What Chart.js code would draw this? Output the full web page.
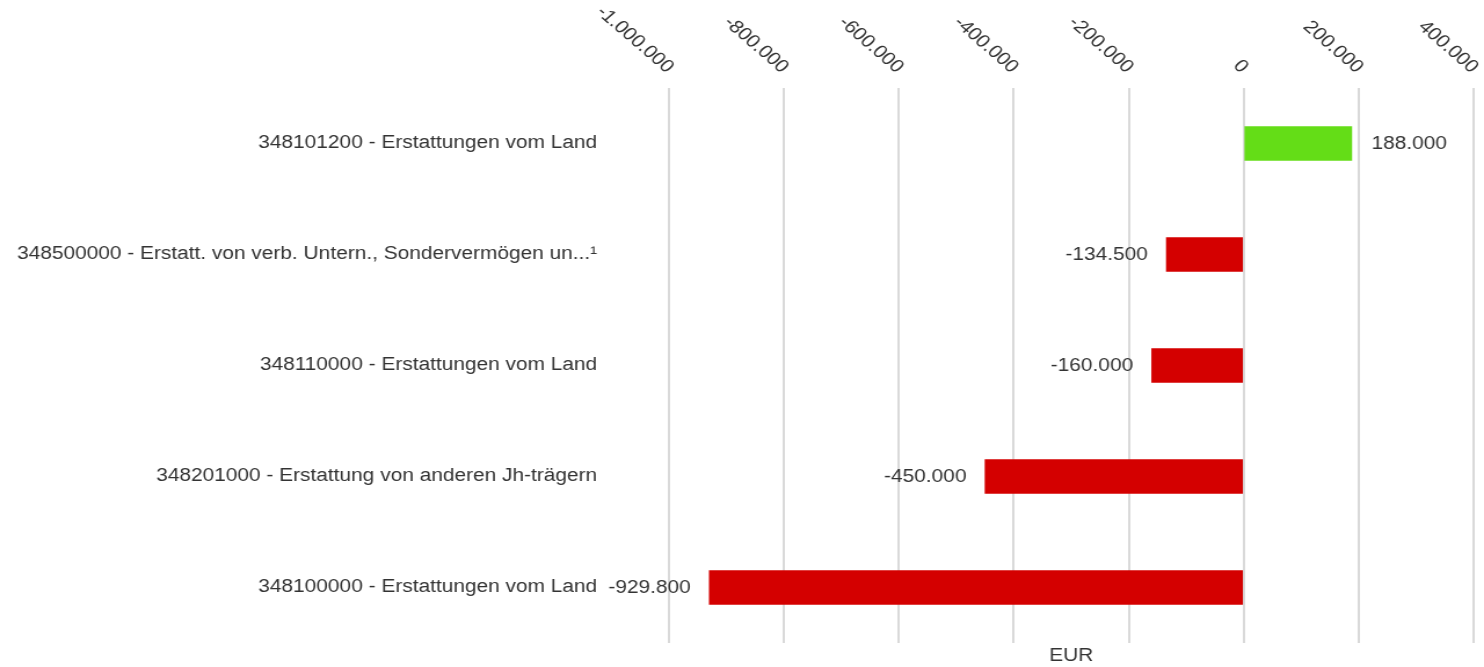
<!DOCTYPE html>
<html>
<head>
<meta charset="utf-8">
<script src="https://cdn.jsdelivr.net/npm/chart.js@4/dist/chart.umd.min.js"></script>
<style>
  html, body { margin: 0; padding: 0; background: #fff; overflow: hidden; }
  /* the reference is a 1280px wide render stretched to 1484px */
  #wrap { width: 1280px; height: 667px; transform: scaleX(1.159375); transform-origin: 0 0; }
  #chart { display: block; }
</style>
</head>
<body>
<div id="wrap"><canvas id="chart" width="1280" height="667"></canvas></div>
<script>
const categories = [
  '348101200 - Erstattungen vom Land',
  '348500000 - Erstatt. von verb. Untern., Sondervermögen un...¹',
  '348110000 - Erstattungen vom Land',
  '348201000 - Erstattung von anderen Jh-trägern',
  '348100000 - Erstattungen vom Land'
];
const values = [188000, -134500, -160000, -450000, -929800];
const axisMin = -1000000;
const axisMax = 400000;
const axisStep = 200000;
const axisTitle = 'EUR';

const FONT = '"Liberation Sans", Arial, sans-serif';
const TEXT = '#333';

// German thousands separators
function fmt(v) {
  const s = Math.abs(v).toString().replace(/\B(?=(\d{3})+(?!\d))/g, '.');
  return (v < 0 ? '-' : '') + s;
}

// rotated tick labels above the chart (end of text sits on the grid line)
const topTicks = {
  id: 'topTicks',
  afterDraw(chart) {
    const { ctx } = chart;
    const sc = chart.scales.x;
    ctx.save();
    ctx.font = '18px ' + FONT;
    ctx.fillStyle = TEXT;
    ctx.textAlign = 'right';
    ctx.textBaseline = 'middle';
    sc.ticks.forEach(t => {
      const x = sc.getPixelForValue(t.value);
      ctx.save();
      ctx.translate(x + 1, 70);
      ctx.rotate(Math.PI / 4);
      ctx.fillText(fmt(t.value), 0, 0);
      ctx.restore();
    });
    ctx.restore();
  }
};

// value labels next to the bar ends
const valueLabels = {
  id: 'valueLabels',
  afterDatasetsDraw(chart) {
    const { ctx } = chart;
    const meta = chart.getDatasetMeta(0);
    ctx.save();
    ctx.font = '18px ' + FONT;
    ctx.fillStyle = TEXT;
    ctx.textBaseline = 'middle';
    meta.data.forEach((bar, i) => {
      const v = values[i];
      if (v >= 0) {
        ctx.textAlign = 'left';
        ctx.fillText(fmt(v), bar.x + 17, bar.y + 1);
      } else {
        ctx.textAlign = 'right';
        ctx.fillText(fmt(v), bar.x - 16, bar.y + 1);
      }
    });
    ctx.restore();
  }
};

new Chart(document.getElementById('chart'), {
  type: 'bar',
  data: {
    labels: categories,
    datasets: [{
      data: values,
      backgroundColor: values.map(v => v >= 0 ? '#64dd17' : '#d40000'),
      borderWidth: 0,
      barThickness: 34
    }]
  },
  options: {
    indexAxis: 'y',
    responsive: false,
    animation: false,
    devicePixelRatio: 1,
    layout: { padding: { left: 0, right: 9, top: 0, bottom: 0 } },
    plugins: {
      legend: { display: false },
      tooltip: { enabled: false }
    },
    scales: {
      x: {
        type: 'linear',
        position: 'top',
        min: axisMin,
        max: axisMax,
        ticks: { display: false, stepSize: axisStep },
        grid: { color: '#d9d9d9', lineWidth: 2, drawTicks: false },
        border: { display: false },
        afterFit(scale) { scale.height = 88; }
      },
      x2: {
        type: 'linear',
        position: 'bottom',
        ticks: { display: false },
        grid: { display: false, drawTicks: false },
        border: { display: false },
        title: {
          display: true,
          text: axisTitle,
          color: TEXT,
          font: { family: FONT, size: 18 },
          padding: { top: 0, bottom: 0 }
        },
        afterFit(scale) { scale.height = 24; }
      },
      y: {
        type: 'category',
        grid: { display: false, drawTicks: false },
        border: { display: false },
        ticks: {
          color: TEXT,
          font: { family: FONT, size: 18 },
          padding: 62,
          autoSkip: false
        },
        afterFit(scale) {
          scale.width = 577;
          // tick padding would otherwise shrink the plot vertically
          scale.paddingTop = 0;
          scale.paddingBottom = 0;
        }
      }
    }
  },
  plugins: [topTicks, valueLabels]
});
</script>
</body>
</html>
